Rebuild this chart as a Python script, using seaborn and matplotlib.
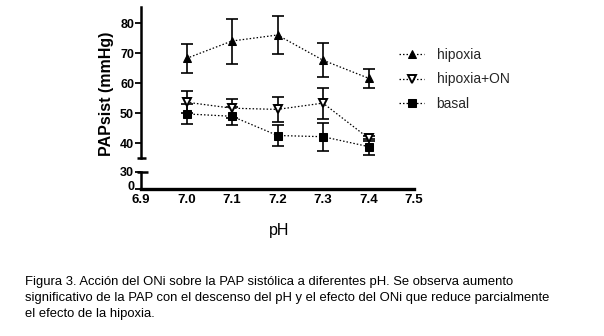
import matplotlib
matplotlib.use("Agg")
import matplotlib.pyplot as plt
import matplotlib.transforms as mtransforms
import numpy as np
import pandas as pd
import seaborn as sns

# Mean systolic pulmonary artery pressure (mmHg) and error at each pH
ph = [7.0, 7.1, 7.2, 7.3, 7.4]
hipoxia = [68.2, 74.0, 76.0, 67.6, 61.6]
hipoxia_err = [4.9, 7.5, 6.2, 5.6, 3.2]
hipoxia_on = [53.6, 51.6, 51.2, 53.3, 41.6]
hipoxia_on_err = [3.6, 3.2, 4.1, 5.2, 0.8]
basal = [49.7, 48.9, 42.5, 42.1, 38.8]
basal_err = [3.2, 3.0, 3.6, 4.6, 2.7]

series_names = ["hipoxia", "hipoxia+ON", "basal"]
x_ticks = [6.9, 7.0, 7.1, 7.2, 7.3, 7.4, 7.5]
upper_yticks = [40, 50, 60, 70, 80]
lower_yticks = [0, 30]

caption_lines = [
    "Figura 3. Acción del ONi sobre la PAP sistólica a diferentes pH. Se observa aumento",
    "significativo de la PAP con el descenso del pH y el efecto del ONi que reduce parcialmente",
    "el efecto de la hipoxia.",
]

frames = []
for name, vals, errs in zip(series_names,
                            [hipoxia, hipoxia_on, basal],
                            [hipoxia_err, hipoxia_on_err, basal_err]):
    frames.append(pd.DataFrame({"pH": ph, "PAP": vals, "err": errs, "grupo": name}))
df = pd.concat(frames, ignore_index=True)

sns.set_theme(style="white")
plt.rcParams["font.family"] = ["Liberation Sans", "DejaVu Sans"]

W, H = 604, 336
fig = plt.figure(figsize=(W / 100, H / 100), dpi=100)

def fx(px):
    return px / W

def fy(px):
    return 1 - px / H

left, right = 141, 414
ax = fig.add_axes([fx(left), fy(158), fx(right - left), (158 - 6.5) / H])
ax_low = fig.add_axes([fx(left), fy(189), fx(right - left), (189 - 172) / H])

styles = {
    "hipoxia": dict(marker="^", markerfacecolor="black", markersize=5.3),
    "hipoxia+ON": dict(marker="v", markerfacecolor="white", markersize=5.8,
                       markeredgewidth=1.4),
    "basal": dict(marker="s", markerfacecolor="black", markersize=5.3),
}

for name in series_names:
    sub = df[df["grupo"] == name]
    ax.errorbar(sub["pH"], sub["PAP"], yerr=sub["err"], fmt="none",
                ecolor="black", elinewidth=1.2, capsize=4.5, capthick=1.2,
                zorder=2)
    sns.lineplot(data=sub, x="pH", y="PAP", ax=ax, color="black",
                 linestyle=(0, (1.2, 1.6)), linewidth=0.9,
                 markeredgecolor="black", label=name, zorder=3,
                 **styles[name])

# Upper panel: 35-85 mmHg
ax.set_xlim(6.9, 7.5)
ax.set_ylim(35, 85.5)
ax.set_yticks(upper_yticks)
ax.set_yticklabels([str(t) for t in upper_yticks])
ax.set_xticks([])
ax.set_xlabel("")
ax.set_ylabel("")
for s in ["top", "right", "bottom"]:
    ax.spines[s].set_visible(False)
ax.spines["left"].set_linewidth(1.8)
ax.spines["left"].set_color("black")
ax.tick_params(axis="y", direction="out", length=4, width=1.3, pad=1,
               labelsize=9, colors="black", left=True)
for lab in ax.get_yticklabels():
    lab.set_fontweight("bold")
# end cap of the broken axis
tr = mtransforms.blended_transform_factory(ax.transAxes, ax.transData)
ax.plot([-0.016, 0.018], [35, 35], transform=tr, color="black", lw=1.8,
        clip_on=False, solid_capstyle="butt")

# Lower panel: 0-30 mmHg with the pH axis
ax_low.set_xlim(6.9, 7.5)
ax_low.set_ylim(0, 30)
ax_low.set_yticks(lower_yticks)
ax_low.set_yticklabels([str(t) for t in lower_yticks])
ax_low.set_xticks(x_ticks)
ax_low.set_xticklabels([f"{t:.1f}" for t in x_ticks])
for s in ["top", "right"]:
    ax_low.spines[s].set_visible(False)
ax_low.spines["left"].set_linewidth(1.8)
ax_low.spines["bottom"].set_linewidth(2.4)
ax_low.spines["left"].set_color("black")
ax_low.spines["bottom"].set_color("black")
ax_low.tick_params(axis="y", direction="out", length=4, width=1.3, pad=1,
                   labelsize=9, colors="black", left=True)
ax_low.tick_params(axis="x", length=0, pad=3.5, labelsize=9.5, colors="black")
for lab in ax_low.get_yticklabels() + ax_low.get_xticklabels():
    lab.set_fontweight("bold")
# lift the "0" label a little so it sits above the pH labels
zero_lab = ax_low.get_yticklabels()[0]
zero_lab.set_transform(zero_lab.get_transform() +
                       mtransforms.ScaledTranslation(0, 3.5 / 100, fig.dpi_scale_trans))
tr2 = mtransforms.blended_transform_factory(ax_low.transAxes, ax_low.transData)
ax_low.plot([-0.016, 0.025], [30, 30], transform=tr2, color="black", lw=1.8,
            clip_on=False, solid_capstyle="butt")

# Legend
handles, labels = ax.get_legend_handles_labels()
leg = fig.legend(handles, labels, loc="upper left",
                 bbox_to_anchor=(fx(399), fy(48)), bbox_transform=fig.transFigure,
                 frameon=False, fontsize=10, handlelength=1.8,
                 handletextpad=0.9, labelspacing=0.75, borderpad=0,
                 borderaxespad=0)
if ax.legend_ is not None:
    ax.legend_.remove()

# Axis titles
fig.text(fx(107), fy(94), "PAPsist (mmHg)", rotation=90, ha="center",
         va="center", fontsize=11.5, fontweight="bold", color="black")
fig.text(fx(279), fy(231), "pH", ha="center", va="center", fontsize=11.5,
         color="black")

# Caption
for text, base in zip(caption_lines, [285.5, 301.5, 317.5]):
    fig.text(fx(25), fy(base), text, ha="left", va="baseline", fontsize=9.4,
             color="black")

fig.savefig("out.png", dpi=100, facecolor="white")
